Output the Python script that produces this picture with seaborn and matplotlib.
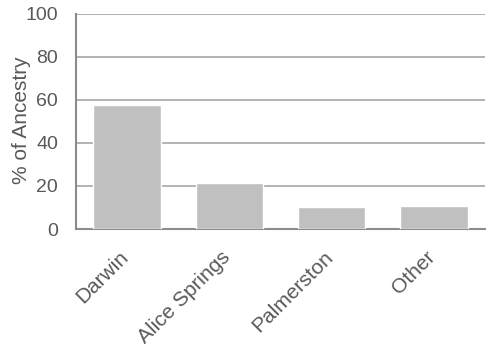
import matplotlib
matplotlib.use("Agg")
import matplotlib.pyplot as plt
from matplotlib.transforms import ScaledTranslation
import seaborn as sns
import pandas as pd

# values
regions = ["Darwin", "Alice Springs", "Palmerston", "Other"]
ancestry_pct = [57.5, 21.4, 10.2, 10.8]
y_ticks = [0, 20, 40, 60, 80, 100]

df = pd.DataFrame({"region": regions, "pct": ancestry_pct})

sns.set_style("white")
plt.rcParams["font.family"] = ["Liberation Sans", "DejaVu Sans"]

TEXT = "#595959"
LINE = "#8c8c8c"
GRID = "#a6a6a6"

fig = plt.figure(figsize=(4.88, 3.54), dpi=100)
ax = fig.add_axes([0.1557, 0.3531, 0.8382, 0.6074])

sns.barplot(data=df, x="region", y="pct", color="#c0c0c0", width=0.66,
            saturation=1, ax=ax, zorder=3)

ax.set_ylim(0, 100)
ax.set_xlim(-0.5, len(regions) - 0.5)
ax.set_yticks(y_ticks)
ax.yaxis.grid(True, color=GRID, linewidth=1.2, zorder=0)
ax.set_axisbelow(True)

# category ticks sit between bars; labels sit under the bars
ax.set_xticks(range(len(regions)))
ax.set_xticklabels(regions, rotation=45, ha="right", rotation_mode="anchor")
ax.set_xticks([i - 0.5 for i in range(len(regions) + 1)], minor=True)
ax.tick_params(axis="x", which="major", length=0, pad=14, labelsize=15, labelcolor=TEXT)
ax.tick_params(axis="x", which="minor", length=4.5, width=1.2, color=LINE, direction="out")
ax.tick_params(axis="y", length=6, width=1.2, color=LINE, labelsize=14, labelcolor=TEXT, pad=7)

shift = ScaledTranslation(-6 / 72, 0.8 / 72, fig.dpi_scale_trans)
for lab in ax.get_xticklabels():
    lab.set_transform(lab.get_transform() + shift)

for side in ["top", "right"]:
    ax.spines[side].set_visible(False)
for side in ["left", "bottom"]:
    ax.spines[side].set_color(LINE)
    ax.spines[side].set_linewidth(1.5)

ax.set_xlabel("")
ax.set_ylabel("% of Ancestry", fontsize=15, color=TEXT)
ax.yaxis.set_label_coords(-0.109, 0.505)

fig.savefig("out.png", dpi=100)
